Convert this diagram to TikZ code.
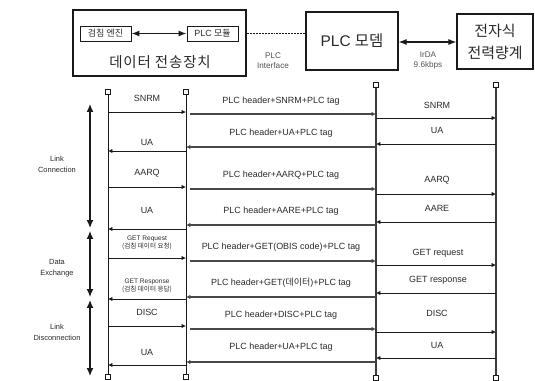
\documentclass[tikz,border=0pt]{standalone}
\usepackage{fontspec}
\setmainfont{Liberation Sans}
\newfontfamily\kr{Noto Sans CJK KR}
\newfontfamily\krw{Noto Sans CJK KR}[LetterSpace=6]
\usetikzlibrary{arrows.meta}
\definecolor{ink}{HTML}{1A1A1A}
\definecolor{txt}{HTML}{2A2A2A}
\tikzset{
  blk/.style={draw=ink,line width=1.2pt,inner sep=0pt,align=center,text=txt},
  life/.style={draw=ink,line width=1pt,fill=white,minimum size=5.5pt,inner sep=0pt},
  lline/.style={draw=ink,line width=1pt},
  msg/.style={draw=ink,line width=0.8pt,-{Latex[length=4.5pt,width=4.5pt]}},
  msgg/.style={draw=ink!80,line width=1.1pt,-{Latex[length=4.5pt,width=4.5pt]}},
  lab/.style={text=txt,font=\fontsize{9}{10}\selectfont,inner sep=0pt},
  small/.style={text=txt,font=\fontsize{7}{8.5}\selectfont,align=center,inner sep=0pt},
  dbl/.style={draw=ink,line width=1.1pt,{Latex[length=8pt,width=6pt]}-{Latex[length=8pt,width=6pt]}},
  phase/.style={draw=ink,line width=1.3pt,{Latex[length=8pt,width=7pt]}-{Latex[length=8pt,width=7pt]}},
}
\begin{document}
\begin{tikzpicture}[x=1bp,y=-1bp]
\useasboundingbox (0,0) rectangle (535,380);
% top block diagram
\node[blk,minimum width=173bp,minimum height=66bp] (dev) at (159.5,43) {};
\node[blk,line width=1pt,minimum width=51bp,minimum height=15bp,font=\kr\fontsize{9}{10}\selectfont] (eng) at (105.5,33.5) {검침 엔진};
\node[blk,line width=1pt,minimum width=51bp,minimum height=15bp,font=\fontsize{9}{10}\selectfont] (mod) at (212.5,33.5) {PLC {\kr 모듈}};
\coordinate (engR) at (131,33.5);
\coordinate (modL) at (187,33.5);
\draw[dbl] (eng.east |- engR) -- (mod.west |- modL);
\node[text=txt,font=\krw\fontsize{14.5}{16}\selectfont,inner sep=0pt] (devlab) at (160,62) {데이터 전송장치};
\node[blk,minimum width=92bp,minimum height=58bp,font=\fontsize{15.5}{17}\selectfont] (modem) at (352,41) {PLC {\kr 모뎀}};
\node[blk,minimum width=76bp,minimum height=55bp,font=\kr\fontsize{15}{22}\selectfont] (meter) at (495,41.5) {전자식\\전력량계};
\draw[draw=ink,line width=1pt,dash pattern=on 2pt off 1pt] (dev.east |- 0,33) -- (modem.west |- 0,33);
\draw[dbl] (modem.east |- 0,42) -- (meter.west |- 0,42);
\node[small,font=\fontsize{8.2}{10}\selectfont,text=ink!75] (plcif) at (273,61) {PLC\\Interface};
\node[small,font=\fontsize{8.2}{10}\selectfont,text=ink!75] (irda) at (428,61) {IrDA\\9.6kbps};
% lifelines
\node[life] (t1) at (108,92) {};
\node[life] (t2) at (186,92) {};
\node[life] (t3) at (376,85) {};
\node[life] (t4) at (496,85) {};
\node[life] (b1) at (108,377) {};
\node[life] (b2) at (186,377) {};
\node[life] (b3) at (376,378) {};
\node[life] (b4) at (496,378) {};
\draw[lline] (t1) -- (b1);
\draw[lline] (t2) -- (b2);
\draw[lline,line width=1.3pt,draw=ink!85] (t3) -- (b3);
\draw[lline,line width=1.3pt,draw=ink!85] (t4) -- (b4);
% left messages
\node[lab] at (147,98) {SNRM};
\draw[msg] (t1 |- 0,112) -- (t2 |- 0,112);
\node[lab] at (147,142) {UA};
\draw[msg] (t2 |- 0,151) -- (t1 |- 0,151);
\node[lab] at (147,173) {AARQ};
\draw[msg] (t1 |- 0,187) -- (t2 |- 0,187);
\node[lab] at (147,210) {UA};
\draw[msg] (t2 |- 0,229) -- (t1 |- 0,229);
\node[small,font=\fontsize{6.6}{8}\selectfont] at (147,243) {GET Request\\{\kr (검침 데이터 요청)}};
\draw[msg] (t1 |- 0,258) -- (t2 |- 0,258);
\node[small,font=\fontsize{6.6}{8}\selectfont] at (147,286) {GET Response\\{\kr (검침 데이터 응답)}};
\draw[msg] (t2 |- 0,299) -- (t1 |- 0,299);
\node[lab] at (147,312) {DISC};
\draw[msg] (t1 |- 0,326) -- (t2 |- 0,326);
\node[lab] at (147,352) {UA};
\draw[msg] (t2 |- 0,365) -- (t1 |- 0,365);
% middle messages
\node[lab] at (281,101) {PLC header+SNRM+PLC tag};
\draw[msgg] ([xshift=4bp]t2 |- 0,114) -- (t3 |- 0,114);
\node[lab] at (281,133) {PLC header+UA+PLC tag};
\draw[msgg] (t3 |- 0,147) -- (t2 |- 0,147);
\node[lab] at (281,175) {PLC header+AARQ+PLC tag};
\draw[msgg] ([xshift=4bp]t2 |- 0,189) -- (t3 |- 0,189);
\node[lab] at (281,211) {PLC header+AARE+PLC tag};
\draw[msgg] (t3 |- 0,225) -- (t2 |- 0,225);
\node[lab] at (281,247) {PLC header+GET(OBIS code)+PLC tag};
\draw[msgg] ([xshift=4bp]t2 |- 0,261) -- (t3 |- 0,261);
\node[lab] at (281,283) {PLC header+GET({\kr 데이터})+PLC tag};
\draw[msgg] (t3 |- 0,297) -- (t2 |- 0,297);
\node[lab] at (281,315) {PLC header+DISC+PLC tag};
\draw[msgg] ([xshift=4bp]t2 |- 0,329) -- (t3 |- 0,329);
\node[lab] at (281,347) {PLC header+UA+PLC tag};
\draw[msgg] (t3 |- 0,362) -- (t2 |- 0,362);
% right messages
\node[lab] at (437,105) {SNRM};
\draw[msg] (t3 |- 0,118) -- (t4 |- 0,118);
\node[lab] at (437,130) {UA};
\draw[msg] (t4 |- 0,144) -- (t3 |- 0,144);
\node[lab] at (437,180) {AARQ};
\draw[msg] (t3 |- 0,194) -- (t4 |- 0,194);
\node[lab] at (437,208) {AARE};
\draw[msg] (t4 |- 0,222) -- (t3 |- 0,222);
\node[lab] at (438,253) {GET request};
\draw[msg] (t3 |- 0,265) -- (t4 |- 0,265);
\node[lab] at (438,280) {GET response};
\draw[msg] (t4 |- 0,293) -- (t3 |- 0,293);
\node[lab] at (437,313) {DISC};
\draw[msg] (t3 |- 0,332) -- (t4 |- 0,332);
\node[lab] at (437,345) {UA};
\draw[msg] (t4 |- 0,358) -- (t3 |- 0,358);
% phases
\coordinate (p0) at (90,104);
\coordinate (p1) at (90,228);
\coordinate (p2) at (90,231);
\coordinate (p3) at (90,297);
\coordinate (p4) at (90,300);
\coordinate (p5) at (90,376);
\draw[phase] (p0) -- (p1);
\draw[phase] (p2) -- (p3);
\draw[phase] (p4) -- (p5);
\node[small,font=\fontsize{7.5}{11}\selectfont] at (57,164) {Link\\Connection};
\node[small,font=\fontsize{7.5}{11}\selectfont] at (57,268) {Data\\Exchange};
\node[small,font=\fontsize{7.5}{11}\selectfont] at (57,332) {Link\\Disconnection};
\end{tikzpicture}
\end{document}
